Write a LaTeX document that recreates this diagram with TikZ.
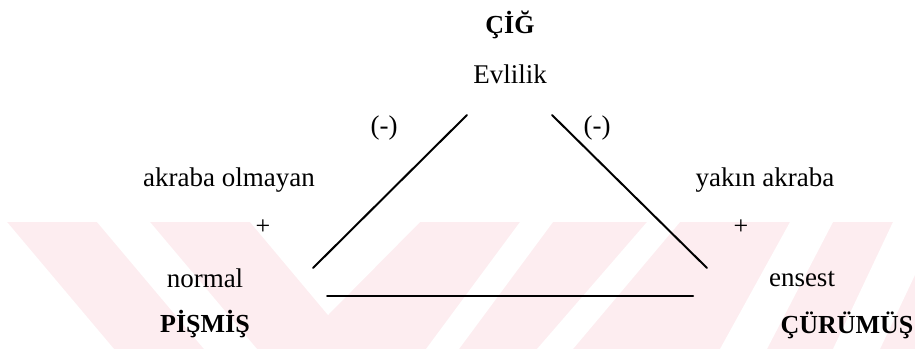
\documentclass[tikz,border=0pt]{standalone}
\usepackage{fontspec}
\setmainfont{Liberation Serif}
\definecolor{wmpink}{RGB}{253,237,240}
\begin{document}
\begin{tikzpicture}[x=1pt,y=-1pt,
  lbl/.style={font=\fontsize{27}{30}\selectfont, inner sep=0pt, anchor=base},
  sign/.style={font=\fontsize{26}{30}\selectfont, inner sep=0pt, anchor=base},
  pole/.style={font=\fontsize{26}{30}\selectfont\bfseries, inner sep=0pt, anchor=base},
  side/.style={line width=2pt, line cap=round}]
\useasboundingbox (0,0) rectangle (915,349);

% pale striped band behind the lower half
\fill[wmpink] (0,222) rectangle (915,349);
\fill[white] (0,222) -- (7,222) -- (114,349) -- (0,349) -- cycle;
\fill[white] (97,222) -- (150,222) -- (257,349) -- (204,349) -- cycle;
\fill[white] (250,222) -- (420,222) -- (328,315) -- cycle;
\fill[white] (520,222) -- (553,222) -- (459,349) -- (426,349) -- cycle;
\fill[white] (647,222) -- (680,222) -- (573,349) -- (537,349) -- cycle;
\fill[white] (790,222) -- (833,222) -- (767,349) -- (720,349) -- cycle;
\fill[white] (893,222) -- (940,222) -- (880,349) -- (833,349) -- cycle;

% labels
\node[pole] (cig) at (510,33) {ÇİĞ};
\node[lbl]  (evl) at (510,83) {Evlilik};
\node[lbl]  (negL) at (384,134) {(-)};
\node[lbl]  (negR) at (597,134) {(-)};
\node[lbl]  (akr) at (229,186) {akraba olmayan};
\node[lbl]  (yak) at (765,186) {yakın akraba};
\node[sign] (plusL) at (263,234) {+};
\node[sign] (plusR) at (741,234) {+};
\node[lbl]  (nor) at (205,287) {normal};
\node[lbl]  (ens) at (802,286) {ensest};
\node[pole] (pis) at (205,332) {PİŞMİŞ};
\node[pole] (cur) at (847,333) {ÇÜRÜMÜŞ};

% triangle sides
\coordinate (topL) at (467,115);
\coordinate (botL) at (313,268);
\coordinate (topR) at (552,115);
\coordinate (botR) at (707,268);
\coordinate (baseL) at (327,296);
\coordinate (baseR) at (693,296);
\draw[side] (topL) -- (botL);
\draw[side] (topR) -- (botR);
\draw[side] (baseL) -- (baseR);
\end{tikzpicture}
\end{document}
